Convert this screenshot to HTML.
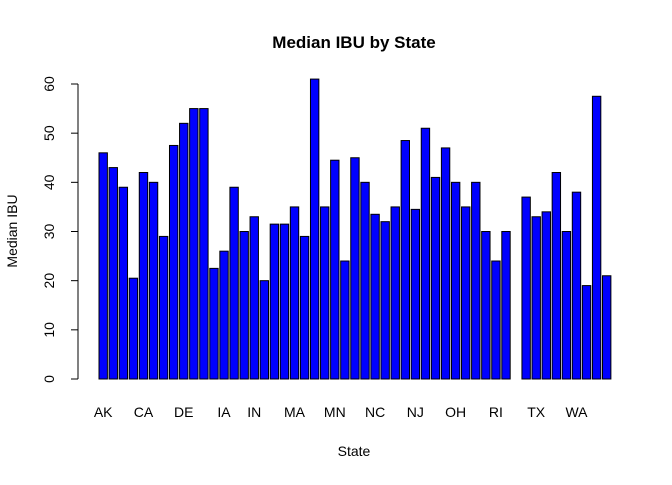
<!DOCTYPE html>
<html><head><meta charset="utf-8"><style>
body{margin:0;background:#fff}
svg text{font-family:"Liberation Sans",Arial,sans-serif;fill:#000}
</style></head><body>
<svg id="c" width="672" height="480" xmlns="http://www.w3.org/2000/svg">
<text x="354" y="48" text-anchor="middle" font-size="17" font-weight="bold">Median IBU by State</text>
<text x="354" y="456" text-anchor="middle" font-size="14">State</text>
<text transform="translate(17,231) rotate(-90)" text-anchor="middle" font-size="14">Median IBU</text>
<g id="yaxis"></g>
<g id="bars"></g>
<g id="xlabels"></g>
</svg>
<script>
const states=["AK","AL","AR","AZ","CA","CO","CT","DC","DE","FL","GA","HI","IA","ID","IL","IN","KS","KY","LA","MA","MD","ME","MI","MN","MO","MS","MT","NC","ND","NE","NH","NJ","NM","NV","NY","OH","OK","OR","PA","RI","SC","SD","TN","TX","UT","VA","VT","WA","WI","WV","WY"];
const values=[46,43,39,20.5,42,40,29,47.5,52,55,55,22.5,26,39,30,33,20,31.5,31.5,35,29,61,35,44.5,24,45,40,33.5,32,35,48.5,34.5,51,41,47,40,35,40,30,24,30,null,37,33,34,42,30,38,19,57.5,21];
const yTicks=[0,10,20,30,40,50,60];
const shownLabels=["AK","CA","DE","IA","IN","MA","MN","NC","NJ","OH","RI","TX","WA"];
const NS="http://www.w3.org/2000/svg";
const y=v=>379-v*(295/60);
const pitch=10.07,bw=8.39,x0=99;
const x=i=>x0+i*pitch;
const ya=document.getElementById('yaxis');
function mk(t,a,p){const e=document.createElementNS(NS,t);for(const k in a)e.setAttribute(k,a[k]);p.appendChild(e);return e;}
const axl=mk('line',{x1:78,x2:78,y1:y(yTicks[yTicks.length-1]),y2:y(yTicks[0]),stroke:'#000'},ya);


yTicks.forEach(t=>{
  const l=mk('line',{x1:71,x2:78,y1:y(t),y2:y(t),stroke:'#000'},ya);
  
  
  const tx=mk('text',{transform:`translate(54,${y(t)}) rotate(-90)`,'text-anchor':'middle','font-size':14},ya);
  tx.textContent=t;
  
  
});
const bg=document.getElementById('bars');
values.forEach((v,i)=>{
  if(v===null)return;
  const r=mk('rect',{x:x(i),y:y(v),width:bw,height:y(0)-y(v),fill:'#0000ff',stroke:'#000','stroke-width':1},bg);
  
  
});
const xl=document.getElementById('xlabels');
states.forEach((s,i)=>{
  if(!shownLabels.includes(s))return;
  const t=mk('text',{x:x(i)+bw/2,y:417,'text-anchor':'middle','font-size':14},xl);
  t.textContent=s;
  
  
});
</script>
</body></html>
